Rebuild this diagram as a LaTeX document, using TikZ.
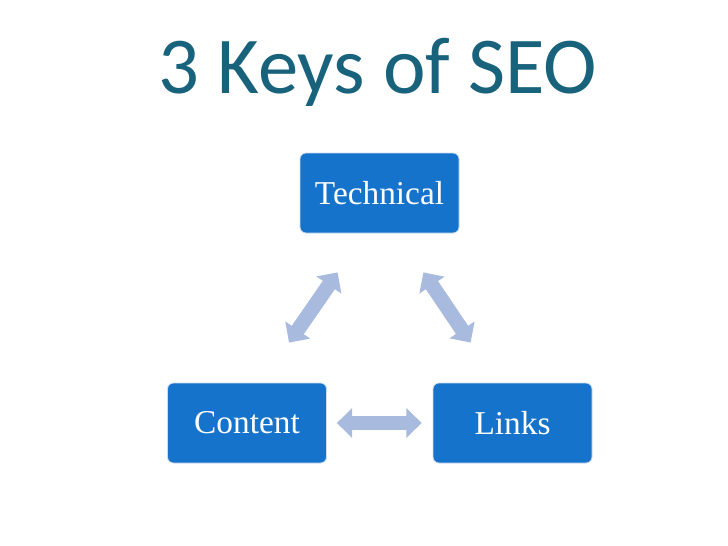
\documentclass[tikz,border=0pt]{standalone}
\usepackage{fontspec}
\setmainfont{Liberation Serif}
\newfontfamily\titlefont{Carlito}
\usetikzlibrary{arrows.meta,calc}
\definecolor{titleteal}{RGB}{24,98,124}
\definecolor{boxblue}{RGB}{22,115,203}
\definecolor{boxedge}{RGB}{205,218,236}
\definecolor{arrowblue}{RGB}{168,187,223}
\tikzset{
  keybox/.style={draw=boxedge, line width=0.6pt, fill=boxblue, rounded corners=4.5pt,
    minimum width=159*0.75pt, minimum height=80*0.75pt, inner sep=0pt,
    text=white, font=\fontsize{25}{30}\selectfont},
  dblarrow/.style={draw=arrowblue, line width=11pt,
    {Triangle[length=11.5pt,width=22pt]}-{Triangle[length=11.5pt,width=22pt]}},
}
\begin{document}
\begin{tikzpicture}[x=0.75pt,y=-0.75pt]
\useasboundingbox (0,0) rectangle (728,546);
\fill[white] (0,0) rectangle (728,546);
\node[anchor=base, text=titleteal, font=\titlefont\fontsize{60.5}{72}\selectfont, inner sep=0pt] (title) at (378,93) {3 Keys of SEO};
\node[keybox] (tech) at (379.5,193) {Technical};
\node[keybox] (content) at (247,423) {Content};
\node[keybox] (links) at (512.5,423) {Links};
\coordinate (lt) at ($(tech.south west)+(38,39)$);
\coordinate (lb) at ($(content.north)+(42,-40)$);
\coordinate (rt) at ($(tech.south east)+(-36,39)$);
\coordinate (rb) at ($(links.north west)+(38,-40)$);
\coordinate (hl) at ($(content.east)+(10,0)$);
\coordinate (hr) at ($(links.west)+(-11,0)$);
\draw[dblarrow] (lb) -- (lt);
\draw[dblarrow] (rt) -- (rb);
\draw[dblarrow] (hl) -- (hr);
\end{tikzpicture}
\end{document}
